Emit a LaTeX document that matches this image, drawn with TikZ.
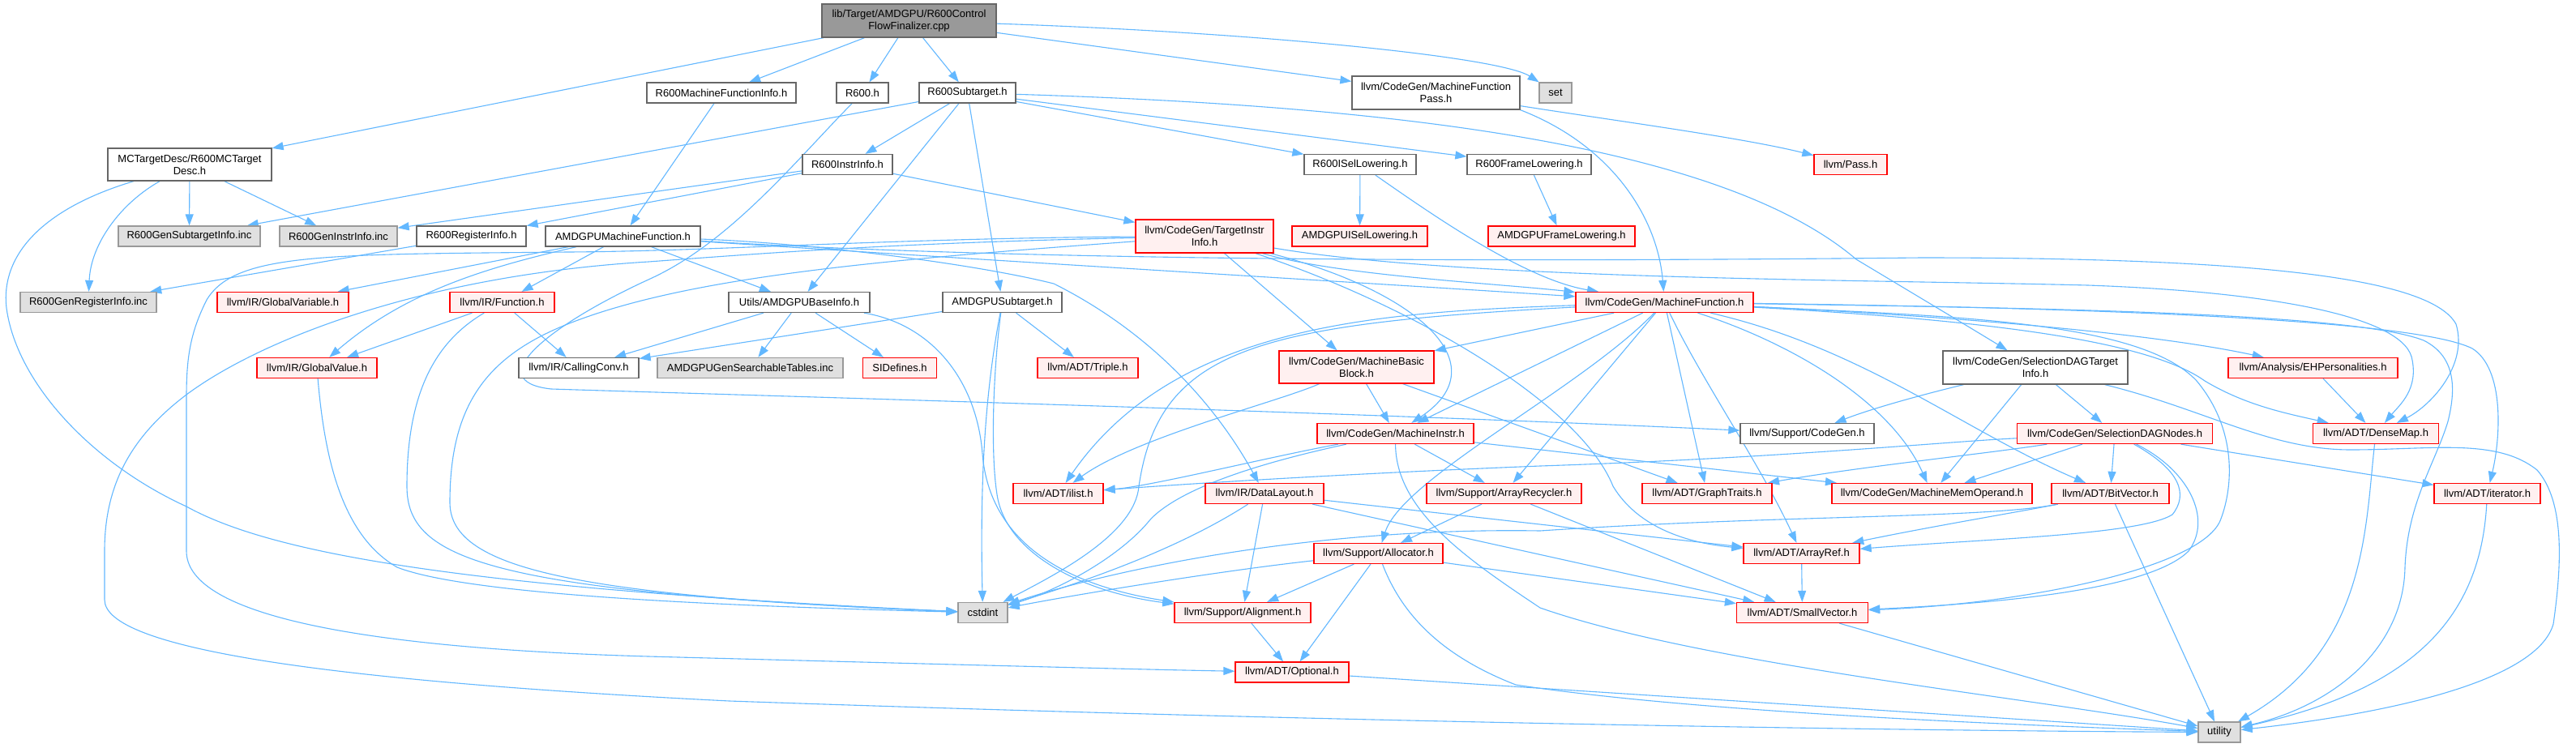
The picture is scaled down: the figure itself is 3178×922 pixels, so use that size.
\documentclass[tikz,border=0pt]{standalone}
\usepackage{fontspec}
\setmainfont{Liberation Sans}
\usetikzlibrary{arrows.meta}
\definecolor{eblue}{HTML}{63B8FF}
\definecolor{redfill}{HTML}{FFF0F0}
\definecolor{redline}{HTML}{FF0000}
\definecolor{g40}{HTML}{666666}
\definecolor{g60}{HTML}{999999}
\definecolor{gfill}{HTML}{E0E0E0}
\pgfdeclarelayer{bg}
\pgfsetlayers{bg,main}
\tikzset{
  nb/.style={rectangle, inner sep=0pt, minimum height=25pt, line width=1.3pt, font=\fontsize{13}{15}\selectfont, align=center},
  wn/.style={nb, draw=g40, fill=white},
  rn/.style={nb, draw=redline, fill=redfill},
  gn/.style={nb, draw=g60, fill=gfill},
  rootn/.style={nb, draw=g40, fill=g60},
  tall/.style={minimum height=41pt},
  e/.style={draw=eblue, line width=1.1pt, -{Triangle[length=14pt,width=10pt]}},
}
\begin{document}
\begin{tikzpicture}[x=1pt,y=-1pt]
\useasboundingbox (0,0) rectangle (3178,922);
% nodes
\node[rootn,tall,minimum width=215pt] (root) at (1121.5,25.5) {lib/Target/AMDGPU/R600Control\\FlowFinalizer.cpp};
\node[wn,minimum width=184pt] (r6mfi) at (890,114.5) {R600MachineFunctionInfo.h};
\node[wn,minimum width=64pt] (r6h) at (1064,114.5) {R600.h};
\node[wn,minimum width=119pt] (r6st) at (1193.5,114.5) {R600Subtarget.h};
\node[wn,tall,minimum width=207pt] (mfp) at (1771.5,114.5) {llvm/CodeGen/MachineFunction\\Pass.h};
\node[gn,minimum width=40pt] (set) at (1919,114.5) {set};
\node[wn,minimum height=40pt,minimum width=202pt] (mct) at (234,203) {MCTargetDesc/R600MCTarget\\Desc.h};
\node[wn,minimum width=111pt] (r6ii) at (1045.5,203) {R600InstrInfo.h};
\node[wn,minimum width=138pt] (r6isl) at (1678,203) {R600ISelLowering.h};
\node[wn,minimum width=153pt] (r6fl) at (1886.5,203) {R600FrameLowering.h};
\node[rn,minimum width=90pt] (pass) at (2283,203) {llvm/Pass.h};
\node[gn,minimum width=175pt] (gsub) at (233.5,291.5) {R600GenSubtargetInfo.inc};
\node[gn,minimum width=145pt] (ginst) at (417.5,291.5) {R600GenInstrInfo.inc};
\node[wn,minimum width=135pt] (r6ri) at (581.5,291.5) {R600RegisterInfo.h};
\node[wn,minimum width=191pt] (amf) at (768.5,291.5) {AMDGPUMachineFunction.h};
\node[rn,tall,minimum width=170pt] (tii) at (1486,291.5) {llvm/CodeGen/TargetInstr\\Info.h};
\node[rn,minimum width=167pt] (aisl) at (1677.5,291.5) {AMDGPUISelLowering.h};
\node[rn,minimum width=181pt] (afl) at (1926.5,291.5) {AMDGPUFrameLowering.h};
\node[gn,minimum width=168pt] (greg) at (109,373) {R600GenRegisterInfo.inc};
\node[rn,minimum width=162pt] (gvar) at (349,373) {llvm/IR/GlobalVariable.h};
\node[rn,minimum width=129pt] (func) at (619.5,373) {llvm/IR/Function.h};
\node[wn,minimum width=174pt] (abi) at (986,373) {Utils/AMDGPUBaseInfo.h};
\node[wn,minimum width=147pt] (ast) at (1236.5,373) {AMDGPUSubtarget.h};
\node[rn,minimum width=219pt] (mf) at (2053.5,373) {llvm/CodeGen/MachineFunction.h};
\node[rn,minimum width=148pt] (gval) at (391,454) {llvm/IR/GlobalValue.h};
\node[wn,minimum width=148pt] (cc) at (714,454) {llvm/IR/CallingConv.h};
\node[gn,minimum width=229pt] (gst) at (925.5,454) {AMDGPUGenSearchableTables.inc};
\node[rn,minimum width=91pt] (sid) at (1110,454) {SIDefines.h};
\node[rn,minimum width=124pt] (triple) at (1342,454) {llvm/ADT/Triple.h};
\node[rn,minimum height=40pt,minimum width=191pt] (mbb) at (1673.5,453) {llvm/CodeGen/MachineBasic\\Block.h};
\node[wn,tall,minimum width=228pt] (sdti) at (2511,453.5) {llvm/CodeGen/SelectionDAGTarget\\Info.h};
\node[rn,minimum width=209pt] (ehp) at (2853.5,454) {llvm/Analysis/EHPersonalities.h};
\node[rn,minimum width=193pt] (mi) at (1721.5,535) {llvm/CodeGen/MachineInstr.h};
\node[wn,minimum width=165pt] (cg) at (2229.5,535) {llvm/Support/CodeGen.h};
\node[rn,minimum width=241pt] (sdn) at (2609,535) {llvm/CodeGen/SelectionDAGNodes.h};
\node[rn,minimum width=155pt] (dm) at (2931,535) {llvm/ADT/DenseMap.h};
\node[rn,minimum width=111pt] (ilist) at (1305.5,609) {llvm/ADT/ilist.h};
\node[rn,minimum width=146pt] (dl) at (1560,609) {llvm/IR/DataLayout.h};
\node[rn,minimum width=191pt] (arec) at (1855.5,609) {llvm/Support/ArrayRecycler.h};
\node[rn,minimum width=160pt] (gt) at (2106,609) {llvm/ADT/GraphTraits.h};
\node[rn,minimum width=247pt] (mmo) at (2383.5,609) {llvm/CodeGen/MachineMemOperand.h};
\node[rn,minimum width=145pt] (bv) at (2603.5,609) {llvm/ADT/BitVector.h};
\node[rn,minimum width=131pt] (iter) at (3068.5,609) {llvm/ADT/iterator.h};
\node[rn,minimum width=159pt] (alloc) at (1700.5,683) {llvm/Support/Allocator.h};
\node[rn,minimum width=143pt] (aref) at (2222.5,683) {llvm/ADT/ArrayRef.h};
\node[gn,minimum width=61pt] (cstd) at (1212.5,756) {cstdint};
\node[rn,minimum width=168pt] (align) at (1533,756) {llvm/Support/Alignment.h};
\node[rn,minimum width=162pt] (svec) at (2223.5,756) {llvm/ADT/SmallVector.h};
\node[rn,minimum width=140pt] (opt) at (1594,829.5) {llvm/ADT/Optional.h};
\node[gn,minimum width=52pt] (util) at (2738,903.5) {utility};

\begin{pgfonlayer}{bg}
\fill[white] (0,0) rectangle (3178,922);
% root
\draw[e] (root) -- (mct);
\draw[e] (root) -- (r6mfi);
\draw[e] (root) -- (r6h);
\draw[e] (root) -- (r6st);
\draw[e] (root) -- (mfp);
\draw[e] (root) .. controls (1550,40) and (1850,70) .. (set);
% MCTargetDesc
\draw[e] (mct) -- (gsub);
\draw[e] (mct) -- (ginst);
\draw[e] (mct) .. controls (150,250) and (112,300) .. (greg);
\draw[e] (mct) .. controls (60,255) and (0,310) .. (8,380) .. controls (20,470) and (110,570) .. (230,625) .. controls (330,680) and (550,725) .. (cstd);
% R600MachineFunctionInfo, R600.h
\draw[e] (r6mfi) -- (amf);
\draw[e] (r6h) .. controls (980,200) and (900,300) .. (800,345) .. controls (680,400) and (590,470) .. (680,480) .. controls (1000,490) and (1700,510) .. (cg);
% R600Subtarget
\draw[e] (r6st) -- (gsub);
\draw[e] (r6st) -- (r6ii);
\draw[e] (r6st) -- (abi);
\draw[e] (r6st) -- (ast);
\draw[e] (r6st) -- (r6isl);
\draw[e] (r6st) -- (r6fl);
\draw[e] (r6st) .. controls (1700,130) and (2120,175) .. (2290,320) .. controls (2390,380) and (2440,410) .. (sdti);
% MachineFunctionPass
\draw[e] (mfp) .. controls (2000,150) and (2150,170) .. (pass);
\draw[e] (mfp.south east) .. controls (1990,180) and (2045,270) .. (mf);
% R600InstrInfo
\draw[e] (r6ii) -- (ginst);
\draw[e] (r6ii) -- (r6ri);
\draw[e] (r6ii) -- (tii);
% lowering etc
\draw[e] (r6isl) -- (aisl);
\draw[e] (r6isl) .. controls (1760,260) and (1880,345) .. (mf);
\draw[e] (r6fl) -- (afl);
\draw[e] (r6ri) -- (greg);
% AMDGPUMachineFunction
\draw[e] (amf) -- (gvar);
\draw[e] (amf) -- (func);
\draw[e] (amf) .. controls (600,330) and (500,360) .. (gval);
\draw[e] (amf) -- (abi);
\draw[e] (amf) .. controls (1200,320) and (1700,350) .. (mf);
\draw[e] (amf) .. controls (1200,318) and (1700,325) .. (2370,318) .. controls (2800,318) and (3000,345) .. (3030,400) .. controls (3045,450) and (3000,500) .. (dm);
\draw[e] (amf) .. controls (1000,300) and (1200,325) .. (1300,350) .. controls (1420,410) and (1500,500) .. (dl);
% TargetInstrInfo
\draw[e] (tii) .. controls (1650,340) and (1850,350) .. (mf);
\draw[e] (tii) -- (mbb);
\draw[e] (tii) .. controls (1750,360) and (1850,450) .. (mi);
\draw[e] (tii) .. controls (1800,345) and (2300,345) .. (2576,352) .. controls (2800,360) and (2960,390) .. (2975,440) .. controls (2985,480) and (2960,500) .. (dm);
\draw[e] (tii) .. controls (1750,380) and (1950,500) .. (1990,600) .. controls (2020,650) and (2080,670) .. (aref);
\draw[e] (tii) .. controls (1100,320) and (850,340) .. (700,400) .. controls (600,440) and (555,500) .. (555,620) .. controls (555,700) and (700,735) .. (cstd);
\draw[e] (tii) .. controls (1100,294) and (880,310) .. (700,311) .. controls (400,314) and (290,312) .. (255,370) .. controls (235,410) and (230,440) .. (230,490) -- (230,680) .. controls (230,760) and (450,800) .. (800,810) .. controls (1100,818) and (1400,826) .. (opt);
\draw[e] (tii) .. controls (1100,300) and (950,312) .. (800,323) .. controls (520,340) and (320,420) .. (230,487) .. controls (160,540) and (129,600) .. (129,680) -- (129,740) .. controls (129,800) and (400,840) .. (900,865) .. controls (1700,893) and (2400,902) .. (util);
% IR
\draw[e] (gval) .. controls (400,560) and (420,660) .. (490,700) .. controls (580,735) and (900,748) .. (cstd);
\draw[e] (func) -- (gval);
\draw[e] (func) -- (cc);
\draw[e] (func) .. controls (540,420) and (502,480) .. (502,600) .. controls (502,690) and (600,730) .. (cstd);
% AMDGPUBaseInfo
\draw[e] (abi) -- (cc);
\draw[e] (abi) -- (gst);
\draw[e] (abi) -- (sid);
\draw[e] (abi) .. controls (1150,400) and (1205,470) .. (1212,560) .. controls (1220,660) and (1300,720) .. (align);
% AMDGPUSubtarget
\draw[e] (ast) -- (triple);
\draw[e] (ast) -- (cc);
\draw[e] (ast) .. controls (1225,460) and (1222,560) .. (1230,610) .. controls (1240,680) and (1330,730) .. (align);
\draw[e] (ast) .. controls (1220,460) and (1208,560) .. (cstd);
% MachineFunction
\draw[e] (mf) -- (mbb);
\draw[e] (mf) -- (mi);
\draw[e] (mf) .. controls (1700,385) and (1450,400) .. (ilist);
\draw[e] (mf) .. controls (1550,400) and (1430,430) .. (1405,600) .. controls (1400,660) and (1300,710) .. (cstd);
\draw[e] (mf) -- (arec);
\draw[e] (mf) .. controls (1950,480) and (1730,590) .. (alloc);
\draw[e] (mf) -- (gt);
\draw[e] (mf) .. controls (2100,470) and (2170,570) .. (aref);
\draw[e] (mf) .. controls (2200,420) and (2330,490) .. (mmo);
\draw[e] (mf) .. controls (2300,430) and (2420,530) .. (bv);
\draw[e] (mf) .. controls (2400,390) and (2640,395) .. (2710,470) .. controls (2760,530) and (2755,600) .. (2740,640) .. controls (2720,700) and (2500,745) .. (svec);
\draw[e] (mf) .. controls (2500,380) and (2900,385) .. (2990,420) .. controls (3030,440) and (3030,480) .. (3020,520) .. controls (3005,570) and (2970,620) .. (2967,700) .. controls (2965,800) and (2880,870) .. (util);
\draw[e] (mf) .. controls (2400,390) and (2650,410) .. (ehp);
\draw[e] (mf) .. controls (2450,395) and (2650,420) .. (2720,470) .. controls (2770,500) and (2820,510) .. (dm);
\draw[e] (mf) .. controls (2600,380) and (2980,395) .. (3050,430) .. controls (3090,455) and (3085,540) .. (iter);
% MachineBasicBlock
\draw[e] (mbb) -- (mi);
\draw[e] (mbb) .. controls (1580,495) and (1400,540) .. (ilist);
\draw[e] (mbb) -- (gt);
% MachineInstr
\draw[e] (mi) .. controls (1560,565) and (1420,600) .. (ilist);
\draw[e] (mi) -- (arec);
\draw[e] (mi) -- (mmo);
\draw[e] (mi) .. controls (1722,630) and (1810,690) .. (1900,750) .. controls (2100,820) and (2500,860) .. (util);
\draw[e] (mi) .. controls (1560,570) and (1460,600) .. (1420,640) .. controls (1380,690) and (1300,730) .. (cstd);
% ArrayRecycler
\draw[e] (arec) -- (alloc);
\draw[e] (arec) -- (svec);
% DataLayout
\draw[e] (dl) -- (align);
\draw[e] (dl) .. controls (1450,680) and (1330,720) .. (cstd);
\draw[e] (dl) -- (aref);
\draw[e] (dl) -- (svec);
% Allocator
\draw[e] (alloc) -- (align);
\draw[e] (alloc) -- (opt);
\draw[e] (alloc) -- (svec);
\draw[e] (alloc) .. controls (1500,705) and (1320,735) .. (cstd);
\draw[e] (alloc) .. controls (1730,760) and (1780,810) .. (1870,845) .. controls (2100,880) and (2500,895) .. (util);
% misc
\draw[e] (align) -- (opt);
\draw[e] (aref) -- (svec);
\draw[e] (svec) -- (util);
\draw[e] (opt) -- (util);
% BitVector
\draw[e] (bv) -- (util);
\draw[e] (bv) .. controls (2500,630) and (2380,650) .. (aref);
\draw[e] (bv) .. controls (2450,640) and (2200,635) .. (1900,655) .. controls (1600,650) and (1350,710) .. (cstd);
% SelectionDAGNodes
\draw[e] (sdn) -- (mmo);
\draw[e] (sdn) -- (bv);
\draw[e] (sdn) -- (iter);
\draw[e] (sdn) .. controls (2450,560) and (2300,575) .. (gt);
\draw[e] (sdn) .. controls (2400,545) and (2200,565) .. (1900,575) .. controls (1650,585) and (1450,598) .. (ilist);
\draw[e] (sdn) .. controls (2700,580) and (2730,640) .. (2700,680) .. controls (2650,730) and (2450,745) .. (svec);
\draw[e] (sdn) .. controls (2690,580) and (2700,610) .. (2680,635) .. controls (2640,660) and (2450,665) .. (aref);
% SelectionDAGTargetInfo
\draw[e] (sdti) .. controls (2400,480) and (2320,500) .. (cg);
\draw[e] (sdti) -- (mmo);
\draw[e] (sdti) -- (sdn);
\draw[e] (sdti) .. controls (2720,505) and (2800,555) .. (2900,555) .. controls (3000,555) and (3080,540) .. (3130,580) .. controls (3165,620) and (3160,700) .. (3150,770) .. controls (3130,840) and (2950,880) .. (util);
% EH, DenseMap, iterator
\draw[e] (ehp) -- (dm);
\draw[e] (dm) .. controls (2918,650) and (2920,800) .. (util);
\draw[e] (iter) .. controls (3060,760) and (2980,850) .. (util);
\end{pgfonlayer}
\end{tikzpicture}
\end{document}
